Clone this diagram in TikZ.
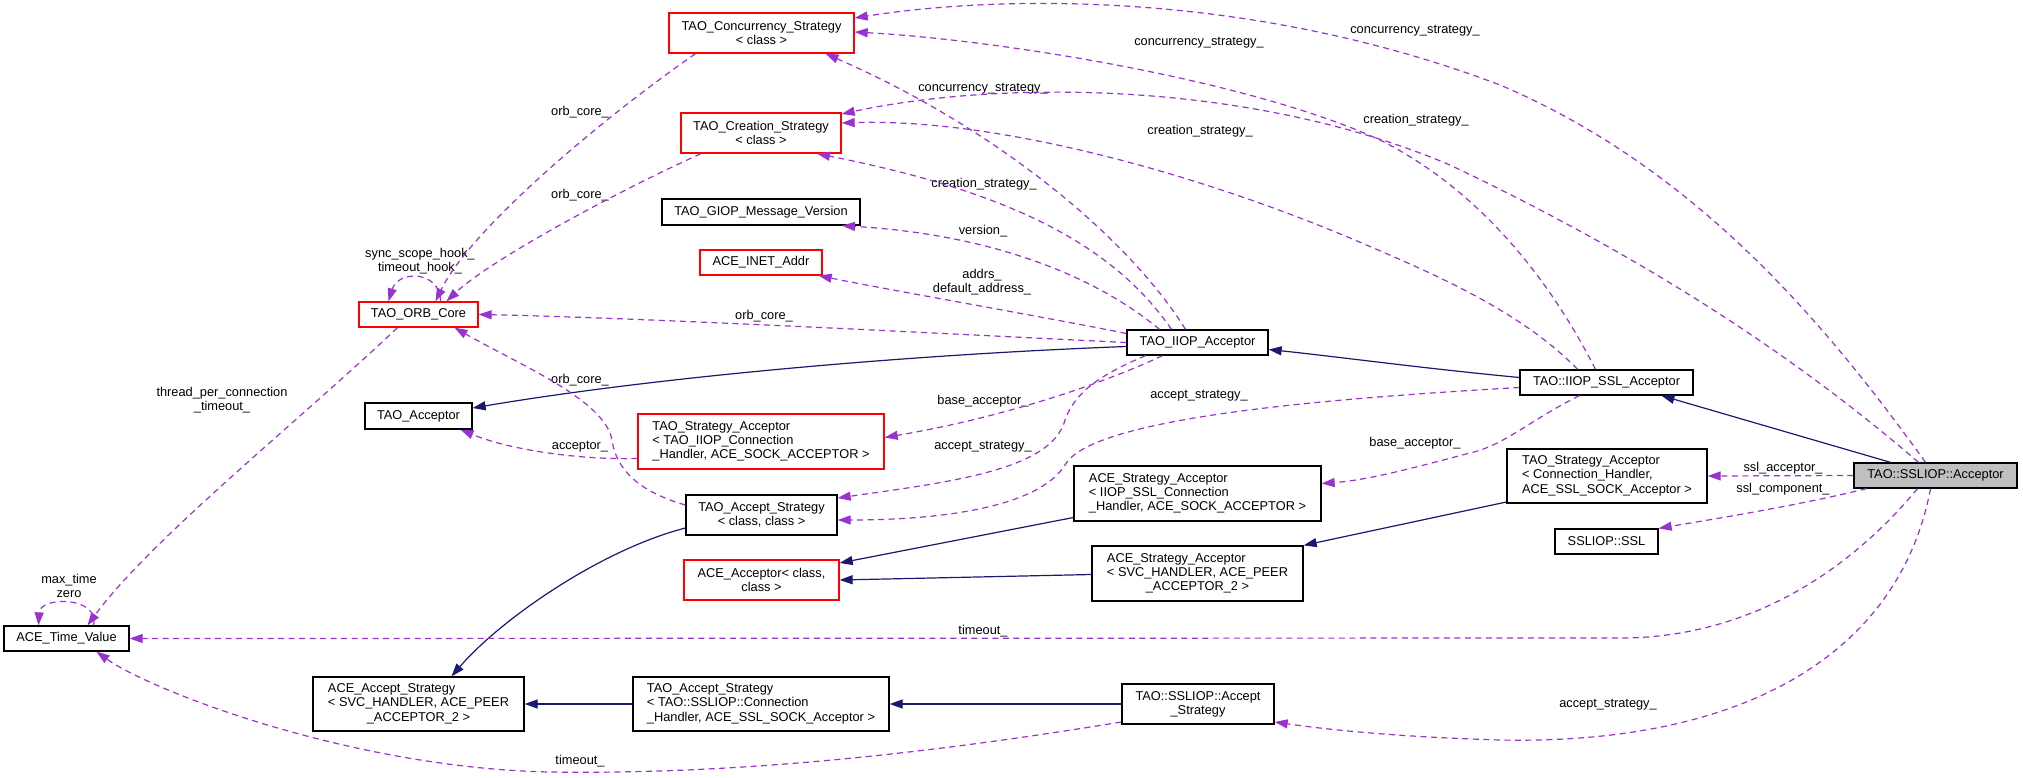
\documentclass[tikz,border=0pt]{standalone}
\usepackage{fontspec}
\setmainfont{Liberation Sans}
\usetikzlibrary{arrows.meta}
\definecolor{usgcol}{HTML}{9A32CD}
\definecolor{inhcol}{HTML}{191970}
\definecolor{redbox}{HTML}{FF0000}
\definecolor{mainfill}{HTML}{BFBFBF}
\newcommand{\dgfont}{\fontsize{12.8}{14.3}\selectfont}
\newcommand{\threeln}[3]{\begin{tabular}{@{}l@{}}#1\\#2\\\multicolumn{1}{@{}c@{}}{#3}\end{tabular}}

\begin{document}
\begin{tikzpicture}[x=1pt,y=-1pt,
	cls/.style={draw=black,fill=white,line width=1.3pt,inner sep=0pt,align=center,font=\dgfont},
	redcls/.style={cls,draw=redbox},
	sz/.style 2 args={minimum width=#1pt,minimum height=#2pt},
	usg/.style={draw=usgcol,line width=1.2pt,dash pattern=on 6pt off 4.5pt,-{Triangle[length=13pt,width=9pt,fill=usgcol]}},
	inh/.style={draw=inhcol,line width=1.2pt,-{Triangle[length=13pt,width=9pt,fill=inhcol]}},
	lbl/.style={inner sep=0pt,align=center,font=\dgfont}]
	\path[use as bounding box,fill=white] (0,0) rectangle (2023,777);
	\node[redcls,sz={185}{40}] (conc) at (761.5,33) {TAO\_Concurrency\_Strategy\\< class >};
	\node[redcls,sz={160}{40}] (creat) at (761,133) {TAO\_Creation\_Strategy\\< class >};
	\node[cls,sz={198}{26}] (giop) at (761,212) {TAO\_GIOP\_Message\_Version};
	\node[redcls,sz={122}{25}] (inet) at (761,262.5) {ACE\_INET\_Addr};
	\node[redcls,sz={119}{25}] (orb) at (418.5,314.5) {TAO\_ORB\_Core};
	\node[cls,sz={107}{26}] (tacc) at (418.5,416) {TAO\_Acceptor};
	\node[redcls,sz={246}{55}] (tsa_iiop) at (761,441.5) {\threeln{TAO\_Strategy\_Acceptor}{< TAO\_IIOP\_Connection}{\_Handler, ACE\_SOCK\_ACCEPTOR >}};
	\node[cls,sz={151}{40}] (tas) at (761.5,515) {TAO\_Accept\_Strategy\\< class, class >};
	\node[redcls,sz={155}{40}] (aceacc) at (761.5,580) {ACE\_Acceptor< class,\\class >};
	\node[cls,sz={141}{25}] (iiop) at (1197.5,342.5) {TAO\_IIOP\_Acceptor};
	\node[cls,sz={247}{55}] (asa_ssl) at (1197.5,493.5) {\threeln{ACE\_Strategy\_Acceptor}{< IIOP\_SSL\_Connection}{\_Handler, ACE\_SOCK\_ACCEPTOR >}};
	\node[cls,sz={211}{55}] (asa_svc) at (1197.5,573.5) {\threeln{ACE\_Strategy\_Acceptor}{< SVC\_HANDLER, ACE\_PEER}{\_ACCEPTOR\_2 >}};
	\node[cls,sz={173}{25}] (ssl_acc) at (1606.5,382.5) {TAO::IIOP\_SSL\_Acceptor};
	\node[cls,sz={200}{54}] (tsa_conn) at (1607,476) {\threeln{TAO\_Strategy\_Acceptor}{< Connection\_Handler,}{ ACE\_SSL\_SOCK\_Acceptor >}};
	\node[cls,sz={103}{25}] (sslsec) at (1606.5,541.5) {SSLIOP::SSL};
	\node[cls,fill=mainfill,sz={163}{25}] (main) at (1935.5,475.5) {TAO::SSLIOP::Acceptor};
	\node[cls,sz={125}{25}] (tv) at (66.5,638.5) {ACE\_Time\_Value};
	\node[cls,sz={211}{54}] (aas) at (418.5,704) {\threeln{ACE\_Accept\_Strategy}{< SVC\_HANDLER, ACE\_PEER}{\_ACCEPTOR\_2 >}};
	\node[cls,sz={256}{54}] (tas_ssl) at (761,704) {\threeln{TAO\_Accept\_Strategy}{< TAO::SSLIOP::Connection}{\_Handler, ACE\_SSL\_SOCK\_Acceptor >}};
	\node[cls,sz={152}{40}] (sas) at (1198,704) {TAO::SSLIOP::Accept\\\_Strategy};
	\foreach \nm/\px/\py/\txt in {
		lbA/580/112/{orb\_core\_},
		lbB/580/195/{orb\_core\_},
		lbC/420/261/{sync\_scope\_hook\_\\timeout\_hook\_},
		lbD/222/400/{thread\_per\_connection\\\_timeout\_},
		lbE/69/586/{max\_time\\zero},
		lbF/764/316/{orb\_core\_},
		lbG/982/282/{addrs\_\\default\_address\_},
		lbH/983/231/{version\_},
		lbI/984/184/{creation\_strategy\_},
		lbJ/983/89/{concurrency\_strategy\_},
		lbK/1199/43/{concurrency\_strategy\_},
		lbL/1200/131/{creation\_strategy\_},
		lbM/1415/31/{concurrency\_strategy\_},
		lbN/1416/120/{creation\_strategy\_},
		lbO/580/380/{orb\_core\_},
		lbP/580/447/{acceptor\_},
		lbQ/983/401/{base\_acceptor\_},
		lbR/983/447/{accept\_strategy\_},
		lbS/1199/396/{accept\_strategy\_},
		lbT/1415/443/{base\_acceptor\_},
		lbU/1783/468/{ssl\_acceptor\_},
		lbV/1783/489/{ssl\_component\_},
		lbW/983/631/{timeout\_},
		lbX/1608/705/{accept\_strategy\_},
		lbY/580/761/{timeout\_}}
	{
		\node[lbl] (\nm) at (\px,\py) {\txt};
	}
	\draw[inh] ([yshift=-4pt]iiop.west) .. controls (900,355) and (650,378) .. ([yshift=8pt]tacc.east);
	\draw[inh] ([yshift=5pt]ssl_acc.west) .. controls (1420,368) and (1340,357) .. ([yshift=-7pt]iiop.east);
	\draw[inh] ([xshift=-45pt]main.north) -- ([xshift=55pt]ssl_acc.south);
	\draw[inh] ([yshift=-13pt]tas.west) .. controls (600,550) and (500,620) .. ([xshift=33pt]aas.north);
	\draw[inh] ([yshift=-24pt]asa_ssl.west) -- ([yshift=17pt]aceacc.east);
	\draw[inh] ([yshift=-1pt]asa_svc.west) -- (aceacc.east);
	\draw[inh] ([yshift=-26pt]tsa_conn.west) -- (asa_svc.north east);
	\draw[inh] (tas_ssl.west) -- (aas.east);
	\draw[inh] (sas.west) -- (tas_ssl.east);
	\draw[usg] ([xshift=-66pt]conc.south) .. controls (600,120) and (470,230) .. ([xshift=17pt]orb.north);
	\draw[usg] ([xshift=-60pt]creat.south) .. controls (620,190) and (490,260) .. ([xshift=28pt]orb.north);
	\draw[usg] ([xshift=22pt]orb.north) .. controls (440,270) and (398,270) .. ([xshift=-30pt]orb.north);
	\draw[usg] ([xshift=-21pt]orb.south) .. controls (300,420) and (150,540) .. ([xshift=21pt]tv.north);
	\draw[usg] ([xshift=27pt]tv.north) .. controls (100,596) and (40,596) .. ([xshift=-28pt]tv.north);
	\draw[usg] (iiop.west) .. controls (950,334) and (650,318) .. (orb.east);
	\draw[usg] ([yshift=9pt]iiop.west) .. controls (1050,318) and (900,292) .. ([xshift=-4pt]inet.south east);
	\draw[usg] ([xshift=-38pt]iiop.north) .. controls (1100,280) and (1000,235) .. ([xshift=81pt]giop.south);
	\draw[usg] ([xshift=-26pt]iiop.north) .. controls (1110,240) and (1000,190) .. ([xshift=56pt]creat.south);
	\draw[usg] ([xshift=-12pt]iiop.north) .. controls (1130,240) and (1000,130) .. ([xshift=64pt]conc.south);
	\draw[usg] ([xshift=-35pt]iiop.south) .. controls (1100,385) and (1000,418) .. ([yshift=4pt]tsa_iiop.east);
	\draw[usg] ([xshift=-52pt]iiop.south) .. controls (1100,375) and (1075,392) .. (1065,420) .. controls (1052,470) and (950,482) .. ([yshift=17pt]tas.east);
	\draw[usg] ([xshift=-11pt]ssl_acc.north) .. controls (1550,280) and (1480,190) .. (1380,140) .. controls (1250,80) and (1000,40) .. ([yshift=1pt]conc.east);
	\draw[usg] ([xshift=-29pt]ssl_acc.north) .. controls (1520,310) and (1430,272) .. (1350,238) .. controls (1200,175) and (1000,118) .. ([yshift=10pt]creat.east);
	\draw[usg] ([yshift=-5pt]ssl_acc.west) .. controls (1300,400) and (1090,420) .. (1065,465) .. controls (1040,505) and (950,520) .. ([yshift=-5pt]tas.east);
	\draw[usg] ([xshift=-27pt]ssl_acc.south) .. controls (1530,420) and (1505,445) .. (1470,453) .. controls (1420,466) and (1370,480) .. ([yshift=10pt]asa_ssl.east);
	\draw[usg] ([xshift=-10pt]main.north) .. controls (1830,330) and (1700,170) .. (1500,85) .. controls (1250,-10) and (1000,-5) .. ([yshift=15pt]conc.east);
	\draw[usg] ([xshift=-17pt]main.north) .. controls (1800,360) and (1650,260) .. (1450,165) .. controls (1250,80) and (1000,80) .. ([yshift=19pt]creat.east);
	\draw[usg] (main.west) -- (tsa_conn.east);
	\draw[usg] ([xshift=-69pt]main.south) .. controls (1800,505) and (1720,518) .. (sslsec.north east);
	\draw[usg] ([xshift=-18pt]main.south) .. controls (1850,570) and (1750,638) .. (1620,638) -- (tv.east);
	\draw[usg] ([xshift=-5pt]main.south) .. controls (1900,650) and (1750,745) .. (1500,740) .. controls (1400,737) and (1330,730) .. ([yshift=-18pt]sas.east);
	\draw[usg] ([yshift=-18pt]sas.west) .. controls (950,750) and (750,775) .. (550,772) .. controls (350,768) and (150,690) .. ([xshift=30pt]tv.south);
	\draw[usg] ([yshift=10pt]tas.west) .. controls (640,492) and (616,470) .. (612,440) .. controls (605,400) and (520,365) .. ([xshift=36pt]orb.south);
	\draw[usg] ([yshift=-17pt]tsa_iiop.west) .. controls (580,460) and (510,450) .. ([xshift=42pt]tacc.south);
\end{tikzpicture}
\end{document}
